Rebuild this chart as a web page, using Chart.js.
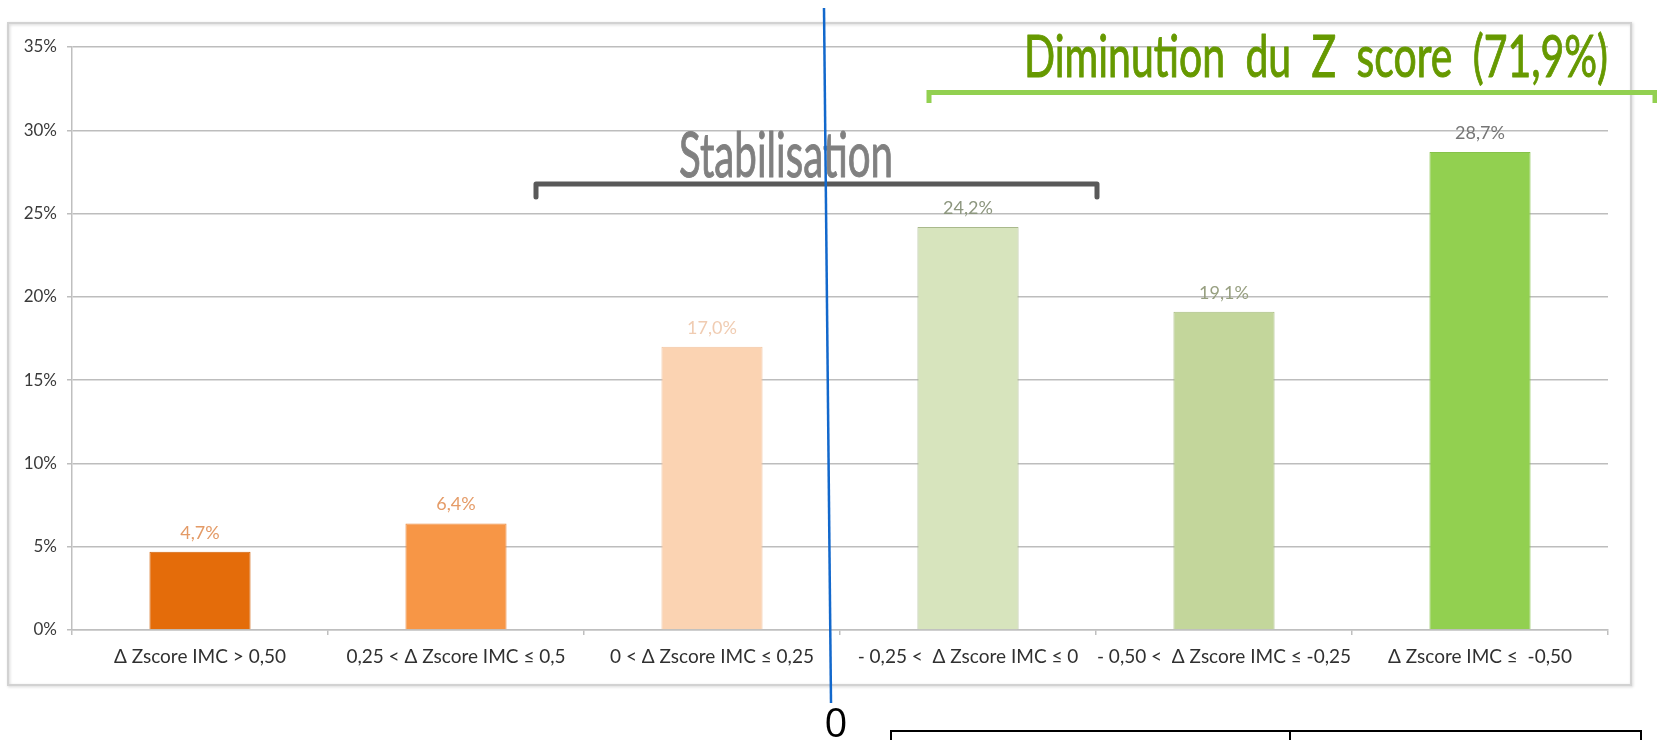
<!DOCTYPE html>
<html>
<head>
<meta charset="utf-8">
<script src="https://cdn.jsdelivr.net/npm/chart.js@4/dist/chart.umd.min.js"></script>
<style>
  html, body { margin: 0; padding: 0; background: #ffffff; }
  #wrap { position: relative; width: 1657px; height: 740px; overflow: hidden; }
  canvas { display: block; }
</style>
</head>
<body>
<div id="wrap"><canvas id="c" width="1657" height="740"></canvas></div>
<script>
// ---- data ----
const categories = [
  'Δ Zscore IMC > 0,50',
  '0,25 < Δ Zscore IMC ≤ 0,5',
  '0 < Δ Zscore IMC ≤ 0,25',
  '- 0,25 <  Δ Zscore IMC ≤ 0',
  '- 0,50 <  Δ Zscore IMC ≤ -0,25',
  'Δ Zscore IMC ≤  -0,50'
];
const values = [4.7, 6.4, 17.0, 24.2, 19.1, 28.7];
const yTickValues = [0, 5, 10, 15, 20, 25, 30, 35];
const barColors = ['#E46C0A', '#F79646', '#FBD3B2', '#D7E4BD', '#C3D69B', '#92D050'];
const barBorders = ['#D2630A', '#EA8A40', '#F2C4A0', '#A9B98C', '#A8BC80', '#86C24A'];
const labelColors = ['#E39A66', '#E59C68', '#F0CCB2', '#8C967E', '#979F80', '#767676'];
const stabilisationText = 'Stabilisation';
const diminutionText = 'Diminution du Z score (71,9%)';
const zeroText = '0';

const fmt = v => v.toFixed(1).replace('.', ',') + '%';

const decorPlugin = {
  id: 'decor',
  beforeDraw(chart) {
    const ctx = chart.ctx;
    ctx.save();
    ctx.fillStyle = '#ffffff';
    ctx.fillRect(0, 0, chart.width, chart.height);
    ctx.shadowColor = 'rgba(0,0,0,0.18)';
    ctx.shadowBlur = 3;
    ctx.shadowOffsetX = 1;
    ctx.shadowOffsetY = 1;
    ctx.strokeStyle = '#D2D2D2';
    ctx.lineWidth = 2;
    ctx.strokeRect(8, 23, 1623, 662);
    ctx.restore();
  },
  afterDatasetsDraw(chart) {
    const ctx = chart.ctx;
    const meta = chart.getDatasetMeta(0);
    ctx.save();
    ctx.font = '18px Lato';
    ctx.textAlign = 'center';
    ctx.textBaseline = 'middle';
    meta.data.forEach((bar, i) => {
      ctx.fillStyle = labelColors[i];
      ctx.fillText(fmt(values[i]), bar.x, bar.y - 19);
    });
    ctx.restore();
  },
  afterDraw(chart) {
    const ctx = chart.ctx;
    ctx.save();
    const fitText = (txt, font, color, x, baseline, width, stroke) => {
      ctx.font = font;
      ctx.fillStyle = color;
      ctx.strokeStyle = color;
      ctx.lineWidth = stroke;
      ctx.lineJoin = 'round';
      ctx.textAlign = 'left';
      ctx.textBaseline = 'alphabetic';
      const w = ctx.measureText(txt).width;
      ctx.save();
      ctx.translate(x, baseline);
      ctx.scale(width / w, 1);
      ctx.fillText(txt, 0, 0);
      if (stroke > 0) ctx.strokeText(txt, 0, 0);
      ctx.restore();
    };
    // green title + bracket
    try { ctx.wordSpacing = '14px'; } catch (e) {}
    fitText(diminutionText, '58px Lato', '#669900', 1024, 77, 584, 1);
    try { ctx.wordSpacing = '0px'; } catch (e) {}
    ctx.strokeStyle = '#92D050';
    ctx.lineWidth = 5;
    ctx.lineJoin = 'miter';
    ctx.beginPath();
    ctx.moveTo(929, 103);
    ctx.lineTo(929, 92.5);
    ctx.lineTo(1655, 92.5);
    ctx.lineTo(1655, 103);
    ctx.stroke();
    // Stabilisation + grey bracket
    fitText(stabilisationText, '61px Lato', '#808080', 679, 177, 214, 1);
    ctx.strokeStyle = '#595959';
    ctx.lineWidth = 5;
    ctx.lineJoin = 'round';
    ctx.lineCap = 'round';
    ctx.beginPath();
    ctx.moveTo(536, 197);
    ctx.lineTo(536, 184);
    ctx.lineTo(1097, 184);
    ctx.lineTo(1097, 197);
    ctx.stroke();
    // blue vertical line
    ctx.strokeStyle = '#1268CC';
    ctx.lineWidth = 2.5;
    ctx.lineCap = 'butt';
    ctx.beginPath();
    ctx.moveTo(824, 8);
    ctx.lineTo(831, 703);
    ctx.stroke();
    // "0"
    ctx.font = '40px "Open Sans"';
    ctx.fillStyle = '#000000';
    ctx.textAlign = 'center';
    ctx.textBaseline = 'alphabetic';
    ctx.fillText(zeroText, 836, 737);
    // table box
    ctx.strokeStyle = '#000000';
    ctx.lineWidth = 2;
    ctx.lineJoin = 'miter';
    ctx.beginPath();
    ctx.moveTo(891, 745);
    ctx.lineTo(891, 731);
    ctx.lineTo(1641, 731);
    ctx.lineTo(1641, 745);
    ctx.moveTo(1290, 731);
    ctx.lineTo(1290, 745);
    ctx.stroke();
    ctx.restore();
  }
};

new Chart(document.getElementById('c'), {
  type: 'bar',
  data: {
    labels: categories,
    datasets: [{
      data: values,
      backgroundColor: barColors,
      borderColor: barBorders,
      borderWidth: 1,
      categoryPercentage: 1.0,
      barPercentage: 0.395
    }]
  },
  options: {
    responsive: false,
    animation: false,
    devicePixelRatio: 1,
    layout: { padding: { left: 8, top: 47, right: 49, bottom: 50 } },
    plugins: { legend: { display: false }, tooltip: { enabled: false } },
    scales: {
      x: {
        grid: { drawOnChartArea: false, drawTicks: true, tickLength: 5, color: '#BFBFBF', lineWidth: 1.5 },
        border: { color: '#BFBFBF', width: 1.5 },
        ticks: {
          autoSkip: false, maxRotation: 0, minRotation: 0, padding: 10,
          color: '#303030', font: { family: 'Lato', size: 19 }
        },
        afterFit: s => { s.height = 60; }
      },
      y: {
        min: 0, max: 35,
        afterBuildTicks: s => { s.ticks = yTickValues.map(v => ({ value: v })); },
        grid: { color: '#BDBDBD', lineWidth: 1.5, tickLength: 5 },
        border: { color: '#BFBFBF', width: 1.5 },
        ticks: {
          padding: 10, color: '#3A3A3A', font: { family: 'Lato', size: 17 },
          callback: v => v + '%'
        },
        afterFit: s => { s.width = 64; }
      }
    }
  },
  plugins: [decorPlugin]
});
</script>
</body>
</html>
